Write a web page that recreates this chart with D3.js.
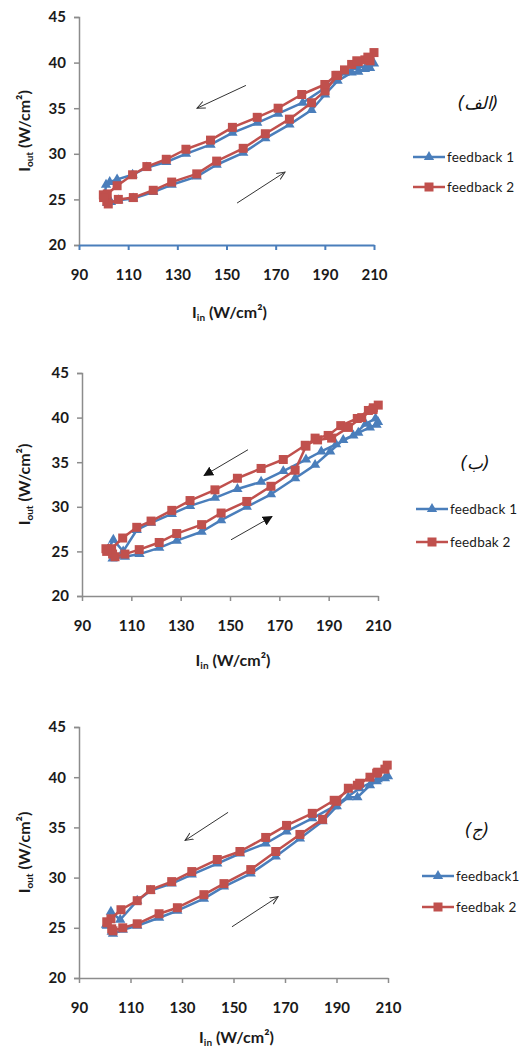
<!DOCTYPE html>
<html>
<head>
<meta charset="utf-8">
<script src="https://cdn.jsdelivr.net/npm/d3@7"></script>
<style>
  body { margin: 0; background: #fff; }
  svg { display: block; }
  .tick text { font-family: Lato, "Liberation Sans", sans-serif; font-size: 15px; font-weight: bold; fill: #1a1a1a; }
  .title { font-family: Lato, "Liberation Sans", sans-serif; font-size: 16px; font-weight: bold; fill: #1a1a1a; }
  .legend text { font-family: Lato, "Liberation Sans", sans-serif; font-size: 13.5px; fill: #1a1a1a; letter-spacing: 0.2px; }
  .tag { font-family: "DejaVu Sans", sans-serif; font-size: 17px; font-style: italic; fill: #111; }
</style>
</head>
<body>
<svg id="chart" width="524" height="1053"></svg>
<script>
const xTicks = [90, 110, 130, 150, 170, 190, 210];
const yTicks = [20, 25, 30, 35, 40, 45];

// panel (الف)
const a_fb1_in  = [100.3, 101.5, 103, 106, 112, 120.2, 127.7, 137.9, 146, 156.8, 165.8, 175.6, 184.6, 190.1, 195.2, 200.9, 203.6, 206.3, 208.4, 210, 207.5, 203, 198, 194.5, 190, 181, 171, 162.5, 152.4, 143.5, 133.5, 125.5, 117.6, 111.8, 105.5, 102.5, 101, 100.5];
const a_fb1_out = [25.3, 24.6, 24.7, 24.9, 25.1, 25.8, 26.6, 27.5, 28.8, 30.1, 31.7, 33.2, 34.8, 36.5, 38.0, 38.9, 39.0, 39.3, 39.4, 39.9, 39.6, 39.5, 38.9, 38.2, 37.2, 35.6, 34.4, 33.4, 32.3, 31.0, 30.0, 29.1, 28.5, 27.7, 27.2, 26.9, 26.6, 25.5];
const a_fb2_in  = [99.9, 101.3, 101.9, 106, 112.1, 120.2, 127.7, 137.9, 146, 156.8, 165.8, 175.6, 184.6, 190.1, 195.2, 200.9, 203.6, 206.3, 208.4, 210, 207.5, 203, 198, 194.5, 190, 180.6, 171, 162.5, 152.4, 143.5, 133.5, 125.5, 117.6, 111.8, 105.5, 101.5, 100];
const a_fb2_out = [25.5, 24.8, 24.5, 25.0, 25.2, 26.0, 26.9, 27.8, 29.2, 30.6, 32.2, 33.8, 35.6, 36.9, 38.6, 39.8, 40.1, 40.3, 40.2, 41.1, 40.6, 40.2, 39.2, 38.6, 37.6, 36.5, 35.0, 34.0, 32.9, 31.5, 30.5, 29.4, 28.6, 27.7, 26.5, 25.6, 25.2];

// panel (ب)
const b_fb1_in  = [100.8, 102.4, 107.4, 113.3, 121.3, 128.4, 138.5, 146.4, 156.8, 166.6, 176.4, 184.5, 190.6, 195.9, 202, 206.7, 209.4, 210, 209, 205, 200, 193, 187, 180.8, 171.6, 162.6, 153, 143.9, 133.8, 126.4, 118, 112.2, 106.7, 102.7, 100.7];
const b_fb1_out = [25.0, 24.2, 24.4, 24.7, 25.4, 26.2, 27.2, 28.5, 30.0, 31.4, 33.2, 34.7, 36.2, 37.5, 38.3, 38.9, 39.2, 39.5, 39.9, 39.3, 38.0, 37.0, 36.2, 35.3, 34.0, 32.8, 32.0, 31.0, 30.1, 29.2, 28.2, 27.4, 25.0, 26.3, 25.3];
const b_fb2_in  = [99.7, 102.4, 103.4, 107.4, 113.2, 121.3, 128.4, 138.5, 146.4, 156.8, 166.6, 176.4, 180.8, 184.5, 189.8, 194.9, 201.6, 206.1, 208.1, 210.1, 208, 203.4, 198, 191.2, 185.5, 180.5, 171.6, 162.6, 153, 143.9, 133.8, 126.4, 118, 112.2, 106.5, 102, 100];
const b_fb2_out = [25.3, 24.7, 24.4, 24.7, 25.2, 26.0, 27.0, 28.0, 29.3, 30.6, 32.3, 34.1, 36.8, 37.7, 38.0, 39.1, 39.9, 40.8, 41.1, 41.4, 40.9, 40.0, 38.9, 37.7, 37.5, 36.9, 35.3, 34.3, 33.2, 31.9, 30.7, 29.6, 28.4, 27.7, 26.5, 25.3, 25.0];

// panel (ج)
const c_fb1_in  = [100.5, 102.7, 103.2, 107, 112.6, 121.1, 128.2, 138.5, 146.3, 156.7, 166.4, 175.8, 184.6, 190.1, 194.6, 198.1, 203, 205.6, 208.8, 210, 206, 199, 189.1, 180.6, 170.6, 162.5, 152.5, 143.7, 133.8, 126, 117.8, 112.6, 106, 102.4, 100.8];
const c_fb1_out = [25.3, 24.6, 24.4, 24.8, 25.2, 26.0, 26.7, 27.9, 29.1, 30.4, 32.1, 33.9, 35.6, 37.1, 38.0, 38.0, 39.2, 39.6, 39.9, 40.1, 39.8, 38.9, 37.1, 35.9, 34.6, 33.4, 32.4, 31.4, 30.3, 29.4, 28.7, 27.7, 25.8, 26.6, 25.2];
const c_fb2_in  = [100.8, 102.7, 103.2, 107, 112.6, 121.1, 128.2, 138.5, 146.3, 156.7, 166.4, 175.8, 184.6, 190.1, 194.6, 198.1, 203, 205.6, 208.8, 209.7, 206, 199, 189.1, 180.6, 170.6, 162.5, 152.5, 143.7, 133.8, 126, 117.8, 112.6, 106.3, 102.4, 101];
const c_fb2_out = [25.6, 24.9, 24.7, 25.0, 25.4, 26.4, 27.0, 28.3, 29.4, 30.8, 32.6, 34.3, 35.8, 37.6, 38.9, 39.2, 40.0, 40.4, 40.8, 41.2, 40.5, 39.4, 37.7, 36.4, 35.2, 34.0, 32.6, 31.8, 30.6, 29.6, 28.8, 27.7, 26.8, 25.9, 25.5];

// direction arrows, in data units: [x0, y0, x1, y1]
const a_arrows = [[157.9, 37.5, 138.0, 35.0], [154.3, 24.6, 173.8, 28.0]];
const b_arrows = [[157.3, 36.4, 139.5, 33.5], [150.4, 26.3, 167.0, 28.9]];
const c_arrows = [[147.9, 36.5, 131.2, 33.7], [149.4, 25.1, 167.3, 28.1]];

const blue = "#4a7ebb", red = "#c0504d", grey = "#8c8c8c";

const svg = d3.select("#chart");

// arrow heads
const defs = svg.append("defs");
defs.append("marker")
  .attr("id", "open-head").attr("viewBox", "0 0 10 10")
  .attr("refX", 9).attr("refY", 5)
  .attr("markerWidth", 9).attr("markerHeight", 9)
  .attr("markerUnits", "userSpaceOnUse").attr("orient", "auto")
  .append("path").attr("d", "M0,1 L9,5 L0,9")
  .attr("fill", "none").attr("stroke", "#333").attr("stroke-width", 1.1);
defs.append("marker")
  .attr("id", "solid-head").attr("viewBox", "0 0 10 10")
  .attr("refX", 9).attr("refY", 5)
  .attr("markerWidth", 10).attr("markerHeight", 10)
  .attr("markerUnits", "userSpaceOnUse").attr("orient", "auto")
  .append("path").attr("d", "M0,0 L10,5 L0,10 Z")
  .attr("fill", "#111");

const panels = [
  { left: 79, right: 374, top: 17, bottom: 245, xColor: blue, tag: "(الف)", tagX: 478, tagY: 109,
    legX: 413, legY: [157, 187], names: ["feedback 1", "feedback 2"], titleY: 318,
    s1: [a_fb1_in, a_fb1_out], s2: [a_fb2_in, a_fb2_out], arrows: a_arrows, head: "open-head" },
  { left: 82, right: 378, top: 373, bottom: 596, xColor: grey, tag: "(ب)", tagX: 475, tagY: 469,
    legX: 416, legY: [509, 542], names: ["feedback 1", "feedbak 2"], titleY: 666,
    s1: [b_fb1_in, b_fb1_out], s2: [b_fb2_in, b_fb2_out], arrows: b_arrows, head: "solid-head" },
  { left: 79, right: 388, top: 727, bottom: 978, xColor: grey, tag: "(ج)", tagX: 477, tagY: 836,
    legX: 422, legY: [876, 907], names: ["feedback1", "feedbak 2"], titleY: 1043,
    s1: [c_fb1_in, c_fb1_out], s2: [c_fb2_in, c_fb2_out], arrows: c_arrows, head: "open-head" }
];

const tri = d3.symbol().type(d3.symbolTriangle).size(46);

panels.forEach(function(p) {
  const x = d3.scaleLinear().domain([90, 210]).range([p.left, p.right]);
  const y = d3.scaleLinear().domain([20, 45]).range([p.bottom, p.top]);
  const g = svg.append("g");

  // axes
  const yAxis = g.append("g")
    .attr("transform", "translate(" + p.left + ",0)")
    .call(d3.axisLeft(y).tickValues(yTicks).tickSize(5).tickPadding(8).tickFormat(d3.format("d")));
  yAxis.selectAll("line, path").attr("stroke", grey).attr("stroke-width", 1.5);

  const xAxis = g.append("g")
    .attr("transform", "translate(0," + p.bottom + ")")
    .call(d3.axisBottom(x).tickValues(xTicks).tickSize(5).tickSizeOuter(0).tickPadding(19).tickFormat(d3.format("d")));
  xAxis.selectAll("line, path").attr("stroke", p.xColor).attr("stroke-width", p.xColor === blue ? 2 : 1.5);

  // axis titles
  const yt = g.append("text").attr("class", "title")
    .attr("transform", "translate(30," + ((p.top + p.bottom) / 2) + ") rotate(-90)")
    .attr("text-anchor", "middle");
  yt.append("tspan").text("I");
  yt.append("tspan").attr("font-size", "10px").attr("dy", 3).text("out");
  yt.append("tspan").attr("dy", -3).text(" (W/cm²)");

  const xt = g.append("text").attr("class", "title")
    .attr("x", (p.left + p.right) / 2 + 3).attr("y", p.titleY)
    .attr("text-anchor", "middle");
  xt.append("tspan").text("I");
  xt.append("tspan").attr("font-size", "10px").attr("dy", 3).text("in");
  xt.append("tspan").attr("dy", -3).text(" (W/cm²)");

  // arrows
  g.selectAll(".arrow").data(p.arrows).enter().append("line")
    .attr("x1", d => x(d[0])).attr("y1", d => y(d[1]))
    .attr("x2", d => x(d[2])).attr("y2", d => y(d[3]))
    .attr("stroke", "#333").attr("stroke-width", 1)
    .attr("marker-end", "url(#" + p.head + ")");

  // series
  const line = d3.line().x(d => x(d[0])).y(d => y(d[1]));
  const pts1 = p.s1[0].map((v, i) => [v, p.s1[1][i]]);
  const pts2 = p.s2[0].map((v, i) => [v, p.s2[1][i]]);

  g.append("path").datum(pts1).attr("d", line)
    .attr("fill", "none").attr("stroke", blue).attr("stroke-width", 2.5).attr("stroke-linejoin", "round");
  g.selectAll(".tri").data(pts1).enter().append("path")
    .attr("d", tri).attr("fill", blue)
    .attr("transform", d => "translate(" + x(d[0]) + "," + y(d[1]) + ")");

  g.append("path").datum(pts2).attr("d", line)
    .attr("fill", "none").attr("stroke", red).attr("stroke-width", 2.5).attr("stroke-linejoin", "round");
  g.selectAll(".sq").data(pts2).enter().append("rect")
    .attr("x", d => x(d[0]) - 4.5).attr("y", d => y(d[1]) - 4.5)
    .attr("width", 9).attr("height", 9).attr("fill", red);

  // panel tag
  g.append("text").attr("class", "tag")
    .attr("x", p.tagX).attr("y", p.tagY).attr("text-anchor", "middle")
    .text(p.tag);

  // legend
  const leg = g.append("g").attr("class", "legend");
  [blue, red].forEach(function(c, i) {
    const ly = p.legY[i];
    leg.append("line").attr("x1", p.legX).attr("x2", p.legX + 32)
      .attr("y1", ly).attr("y2", ly).attr("stroke", c).attr("stroke-width", 2.5);
    if (i === 0) {
      leg.append("path").attr("d", tri).attr("fill", c)
        .attr("transform", "translate(" + (p.legX + 16) + "," + ly + ")");
    } else {
      leg.append("rect").attr("x", p.legX + 11.5).attr("y", ly - 4.5)
        .attr("width", 9).attr("height", 9).attr("fill", c);
    }
    leg.append("text").attr("x", p.legX + 34).attr("y", ly + 5).text(p.names[i]);
  });
});
</script>
</body>
</html>
